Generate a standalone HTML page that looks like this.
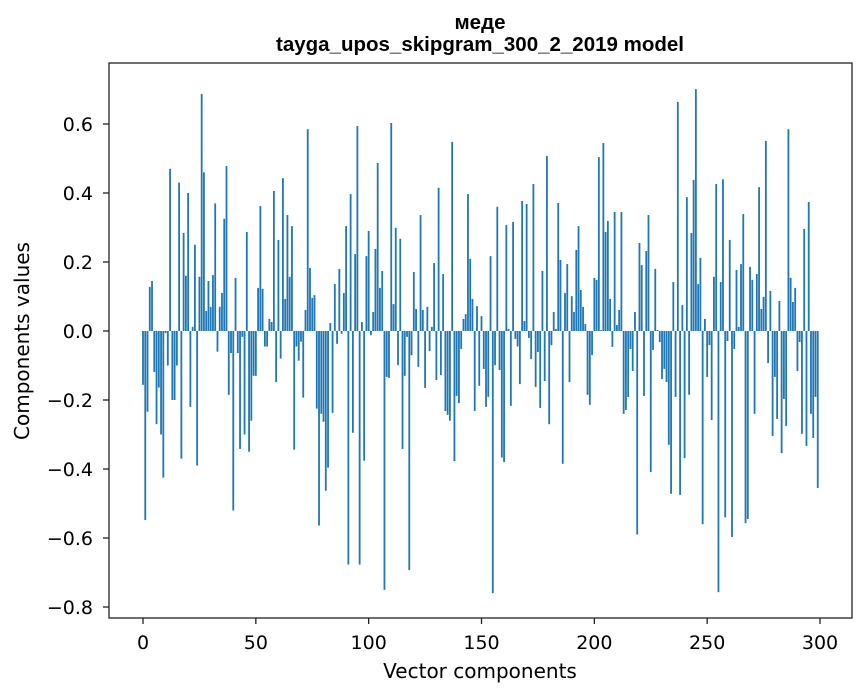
<!DOCTYPE html>
<html><head><meta charset="utf-8"><style>
body{margin:0;background:#fff;}
svg{display:block;font-family:"DejaVu Sans","Liberation Sans",sans-serif;}
</style></head><body>
<svg id="chart" width="867" height="696">
<text x="480" y="29" text-anchor="middle" font-size="20.5" font-weight="bold" font-family="Liberation Sans, sans-serif">меде</text>
<text x="480" y="51" text-anchor="middle" font-size="20.5" font-weight="bold" font-family="Liberation Sans, sans-serif">tayga_upos_skipgram_300_2_2019 model</text>
<g id="bars"></g>
<rect x="109" y="63" width="743" height="555" fill="none" stroke="#222" stroke-width="1.3"/>
<g id="xaxis"></g>
<g id="yaxis"></g>
<text x="480" y="678" text-anchor="middle" font-size="20">Vector components</text>
<text x="29" y="341" text-anchor="middle" font-size="20" transform="rotate(-90 29 341)">Components values</text>
</svg>
<script>
const values = [-0.156,-0.548,-0.234,0.128,0.145,-0.119,-0.27,-0.164,-0.30,-0.425,
-0.006,-0.10,0.47,-0.20,-0.20,-0.10,0.43,-0.37,0.284,0.16,
0.40,-0.22,0.012,0.25,-0.39,0.157,0.687,0.46,0.058,0.145,
0.07,0.162,0.37,-0.06,0.07,0.11,0.325,0.478,-0.185,-0.064,
-0.52,0.154,-0.064,-0.342,-0.017,-0.30,0.287,-0.35,-0.26,-0.13,
-0.13,0.125,0.362,0.122,-0.045,-0.045,0.035,0.026,0.406,-0.148,
0.264,-0.08,0.443,0.093,0.336,0.157,0.304,-0.344,-0.045,-0.086,
-0.031,-0.193,0.061,0.585,0.183,0.096,0.104,-0.225,-0.564,-0.24,
-0.263,-0.463,-0.396,0.023,-0.237,0.136,-0.037,0.18,-0.008,0.11,
0.304,-0.677,0.397,-0.295,0.223,0.594,-0.677,0.026,-0.376,0.217,
0.29,-0.012,0.055,0.238,0.487,0.125,0.174,-0.75,-0.133,-0.136,
0.603,0.078,0.299,-0.099,0.267,-0.342,-0.13,-0.017,-0.693,-0.07,
0.171,0.064,-0.104,0.336,0.061,-0.165,0.07,-0.058,0.012,0.197,
-0.142,0.415,-0.128,0.165,-0.232,-0.243,-0.26,0.548,-0.377,-0.188,
-0.209,-0.052,0.035,0.049,0.397,0.209,0.093,-0.232,0.072,-0.159,
0.043,-0.11,-0.22,-0.191,0.217,-0.76,-0.099,0.36,-0.113,-0.367,
-0.38,0.307,0.006,-0.217,0.316,-0.023,-0.045,-0.154,0.377,0.029,
0.368,-0.02,-0.081,0.426,-0.162,-0.061,-0.223,0.174,-0.145,0.507,
-0.27,-0.041,0.055,0.006,0.371,0.206,-0.385,0.11,0.194,-0.148,
0.101,0.055,0.235,0.304,0.119,0.07,0.02,-0.185,-0.214,-0.07,
0.154,0.148,0.504,0.003,0.545,0.287,0.319,0.093,-0.046,0.345,
0.017,0.061,0.345,-0.24,-0.229,-0.191,-0.052,-0.116,0.055,-0.59,
0.255,0.191,-0.188,0.232,0.336,-0.409,-0.055,0.18,0.003,-0.032,
-0.139,-0.11,-0.148,-0.33,-0.472,0.142,-0.191,0.664,-0.475,0.075,
-0.368,0.388,-0.185,0.284,0.438,0.701,0.136,0.212,-0.56,0.035,
-0.133,-0.041,-0.258,0.157,0.426,-0.757,0.142,0.44,-0.54,-0.029,
0.264,-0.597,-0.052,0.177,0.012,0.194,0.339,-0.557,-0.545,0.186,
0.148,-0.24,0.165,0.417,0.064,0.099,0.551,-0.093,0.116,-0.304,
-0.133,-0.255,0.087,-0.354,-0.197,-0.275,0.585,0.154,0.084,0.125,
-0.116,-0.032,-0.298,0.296,-0.333,0.374,-0.24,-0.31,-0.191,-0.455];
const xTicks = [0,50,100,150,200,250,300];
const yTicks = [-0.8,-0.6,-0.4,-0.2,0.0,0.2,0.4,0.6];
const yTickLabels = ["\u22120.8","\u22120.6","\u22120.4","\u22120.2","0.0","0.2","0.4","0.6"];

const NS="http://www.w3.org/2000/svg";
function xs(i){return 143+i*(677/300);}
function ys(v){return 331-v*345;}
const bw=0.8*677/300;
const bars=document.getElementById('bars');
values.forEach((v,i)=>{
  const r=document.createElementNS(NS,'rect');
  const y0=ys(0), y1=ys(v);
  r.setAttribute('x',xs(i)-bw/2);
  r.setAttribute('y',Math.min(y0,y1));
  r.setAttribute('width',bw);
  r.setAttribute('height',Math.abs(y1-y0));
  r.setAttribute('fill','#1f77b4');
  
  
  bars.appendChild(r);
});
const xa=document.getElementById('xaxis');
xTicks.forEach(t=>{
  const l=document.createElementNS(NS,'line');
  l.setAttribute('x1',xs(t));l.setAttribute('x2',xs(t));
  l.setAttribute('y1',618);l.setAttribute('y2',624);
  l.setAttribute('stroke','#222');l.setAttribute('stroke-width','1.3');
  
  
  xa.appendChild(l);
  const tx=document.createElementNS(NS,'text');
  tx.setAttribute('x',xs(t));tx.setAttribute('y',649);
  tx.setAttribute('text-anchor','middle');tx.setAttribute('font-size','19');
  tx.textContent=String(t);
  
  
  xa.appendChild(tx);
});
const ya=document.getElementById('yaxis');
yTicks.forEach((t,k)=>{
  const l=document.createElementNS(NS,'line');
  l.setAttribute('x1',103);l.setAttribute('x2',109);
  l.setAttribute('y1',ys(t));l.setAttribute('y2',ys(t));
  l.setAttribute('stroke','#222');l.setAttribute('stroke-width','1.3');
  
  
  ya.appendChild(l);
  const tx=document.createElementNS(NS,'text');
  tx.setAttribute('x',93);tx.setAttribute('y',ys(t)+7);
  tx.setAttribute('text-anchor','end');tx.setAttribute('font-size','19');
  tx.textContent=yTickLabels[k];
  
  
  ya.appendChild(tx);
});
</script>
</body></html>
